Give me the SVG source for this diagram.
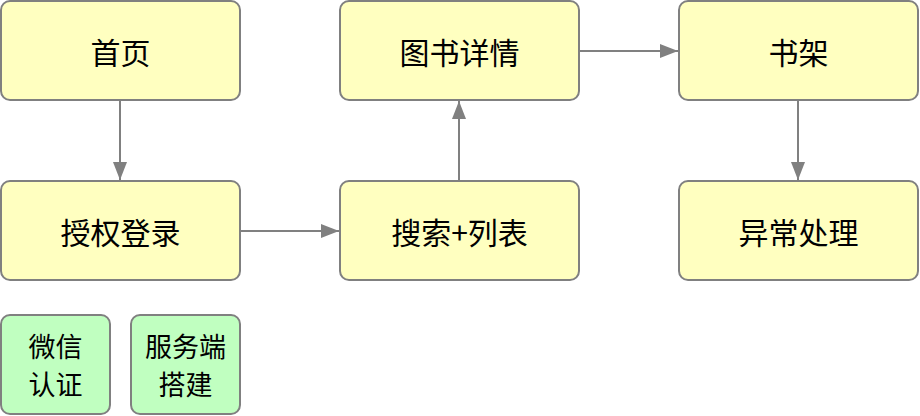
<svg xmlns="http://www.w3.org/2000/svg" width="920" height="416" viewBox="0 0 920 416">
<style>
.n{fill:#ffffc0;stroke:#808080;stroke-width:2}
.g{fill:#c0ffc0;stroke:#808080;stroke-width:2}
.t{font-family:"Noto Sans CJK SC","Liberation Sans",sans-serif;font-size:30px;fill:#000;text-anchor:middle;dominant-baseline:central}
.s{font-family:"Noto Sans CJK SC","Liberation Sans",sans-serif;font-size:27px;fill:#000;text-anchor:middle;dominant-baseline:central}
.e{stroke:#808080;stroke-width:2;fill:none;marker-end:url(#a)}
</style>
<defs>
<marker id="a" markerUnits="userSpaceOnUse" markerWidth="20" markerHeight="16" refX="18" refY="7" orient="auto">
<path d="M0,0 L18,7 L0,14 Z" fill="#808080"/>
</marker>
</defs>
<g id="edges">
<path class="e" d="M120,101 V180"/>
<path class="e" d="M241,231 H339"/>
<path class="e" d="M459,180 V101"/>
<path class="e" d="M580,51 H678"/>
<path class="e" d="M798,101 V180"/>
</g>
<g id="home"><rect class="n" x="1" y="1" width="239" height="99" rx="9"/><text class="t" x="120.5" y="51">首页</text></g>
<g id="detail"><rect class="n" x="340" y="1" width="239" height="99" rx="9"/><text class="t" x="459.5" y="51">图书详情</text></g>
<g id="shelf"><rect class="n" x="679" y="1" width="239" height="99" rx="9"/><text class="t" x="798.5" y="51">书架</text></g>
<g id="login"><rect class="n" x="1" y="181" width="239" height="99" rx="9"/><text class="t" x="120.5" y="231">授权登录</text></g>
<g id="search"><rect class="n" x="340" y="181" width="239" height="99" rx="9"/><text class="t" x="459.5" y="231">搜索+列表</text></g>
<g id="error"><rect class="n" x="679" y="181" width="239" height="99" rx="9"/><text class="t" x="798.5" y="231">异常处理</text></g>
<g id="wechat"><rect class="g" x="1" y="315" width="109" height="99" rx="9"/><text class="s" x="55.5" y="345">微信</text><text class="s" x="55.5" y="383">认证</text></g>
<g id="server"><rect class="g" x="131" y="315" width="109" height="99" rx="9"/><text class="s" x="185.5" y="345">服务端</text><text class="s" x="185.5" y="383">搭建</text></g>
</svg>
